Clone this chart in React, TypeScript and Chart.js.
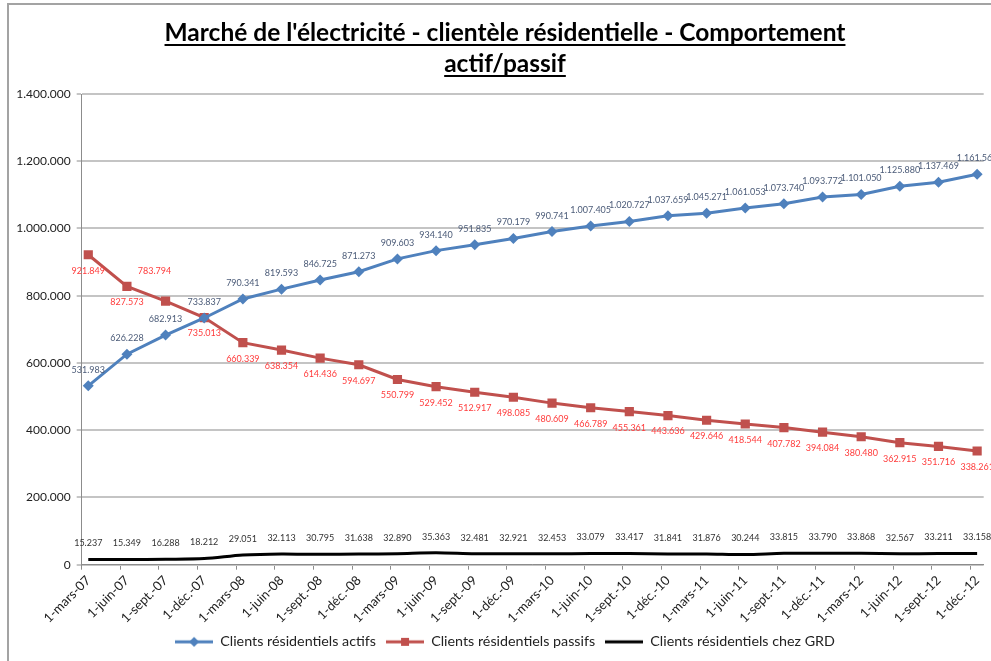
import React, { useEffect, useRef } from 'react';
import { Chart, registerables } from 'chart.js';

Chart.register(...registerables);

const dates = [
  '1-mars-07', '1-juin-07', '1-sept.-07', '1-déc.-07',
  '1-mars-08', '1-juin-08', '1-sept.-08', '1-déc.-08',
  '1-mars-09', '1-juin-09', '1-sept.-09', '1-déc.-09',
  '1-mars-10', '1-juin-10', '1-sept.-10', '1-déc.-10',
  '1-mars-11', '1-juin-11', '1-sept.-11', '1-déc.-11',
  '1-mars-12', '1-juin-12', '1-sept.-12', '1-déc.-12',
];

const actifs = [
  531983, 626228, 682913, 733837, 790341, 819593, 846725, 871273,
  909603, 934140, 951835, 970179, 990741, 1007405, 1020727, 1037659,
  1045271, 1061053, 1073740, 1093772, 1101050, 1125880, 1137469, 1161560,
];

const passifs = [
  921849, 827573, 783794, 735013, 660339, 638354, 614436, 594697,
  550799, 529452, 512917, 498085, 480609, 466789, 455361, 443636,
  429646, 418544, 407782, 394084, 380480, 362915, 351716, 338261,
];

const grd = [
  15237, 15349, 16288, 18212, 29051, 32113, 30795, 31638,
  32890, 35363, 32481, 32921, 32453, 33079, 33417, 31841,
  31876, 30244, 33815, 33790, 33868, 32567, 33211, 33158,
];

const yTicks = [0, 200000, 400000, 600000, 800000, 1000000, 1200000, 1400000];

const seriesNames = [
  'Clients résidentiels actifs',
  'Clients résidentiels passifs',
  'Clients résidentiels chez GRD',
];

const titleLines = [
  "Marché de l'électricité - clientèle résidentielle - Comportement",
  'actif/passif',
];

const FONT = 'Lato';
const W = 1004;
const H = 661;
const TICK_SHIFT = 0.17;
const CENTER_X = 505;

const fmt = (v: number) => String(Math.round(v)).replace(/\B(?=(\d{3})+(?!\d))/g, '.');

function makeIcon(color: string, marker: 'diamond' | 'square' | 'none') {
  const c = document.createElement('canvas');
  c.width = 38;
  c.height = 14;
  const ctx = c.getContext('2d')!;
  ctx.strokeStyle = color;
  ctx.lineWidth = 3;
  ctx.beginPath();
  ctx.moveTo(0, 7);
  ctx.lineTo(38, 7);
  ctx.stroke();
  ctx.fillStyle = color;
  if (marker === 'diamond') {
    ctx.beginPath();
    ctx.moveTo(19, 2);
    ctx.lineTo(24, 7);
    ctx.lineTo(19, 12);
    ctx.lineTo(14, 7);
    ctx.closePath();
    ctx.fill();
  } else if (marker === 'square') {
    ctx.fillRect(15, 3, 8, 8);
  }
  return c;
}

const framePlugin = {
  id: 'frame',
  beforeDraw(chart: any) {
    const ctx = chart.ctx;
    ctx.save();
    ctx.fillStyle = '#ffffff';
    ctx.fillRect(0, 0, chart.width, chart.height);
    ctx.strokeStyle = '#a3a3a3';
    ctx.lineWidth = 2;
    ctx.beginPath();
    ctx.moveTo(8, chart.height);
    ctx.lineTo(8, 4);
    ctx.lineTo(chart.width - 2, 4);
    ctx.stroke();
    ctx.restore();
  },
};

const legendShiftPlugin = {
  id: 'legendShift',
  afterLayout(chart: any) {
    const lg = chart.legend;
    if (!lg) return;
    const d = CENTER_X - (lg.left + lg.right) / 2;
    lg.left += d;
    lg.right += d;
  },
};

const titlePlugin = {
  id: 'underlinedTitle',
  afterDraw(chart: any) {
    const ctx = chart.ctx;
    ctx.save();
    ctx.font = `bold 24.5px ${FONT}`;
    ctx.fillStyle = '#000000';
    ctx.textAlign = 'center';
    ctx.textBaseline = 'alphabetic';
    const baselines = [41, 72];
    titleLines.forEach((line, i) => {
      const y = baselines[i];
      ctx.fillText(line, CENTER_X, y);
      const w = ctx.measureText(line).width;
      ctx.fillRect(CENTER_X - w / 2, y + 3, w, 2);
    });
    ctx.restore();
  },
};

const labelPlugin = {
  id: 'pointLabels',
  afterDatasetsDraw(chart: any) {
    const ctx = chart.ctx;
    ctx.save();
    ctx.font = `9px ${FONT}`;
    ctx.textAlign = 'center';
    ctx.textBaseline = 'middle';
    chart.data.datasets.forEach((ds: any, di: number) => {
      const meta = chart.getDatasetMeta(di);
      meta.data.forEach((pt: any, j: number) => {
        const v = ds.data[j].y;
        let dx = 0;
        let dy = -16;
        let color = '#4b5b78';
        if (di === 1) {
          color = '#ff3b3b';
          if (j === 2) {
            dx = -11;
            dy = -30;
          } else {
            dy = 16;
          }
        } else if (di === 2) {
          color = '#333333';
          dy = -16;
        }
        ctx.fillStyle = color;
        ctx.fillText(fmt(v), pt.x + dx, pt.y + dy);
      });
    });
    ctx.restore();
  },
};

export default function App() {
  const ref = useRef<HTMLCanvasElement | null>(null);

  useEffect(() => {
    const canvas = ref.current;
    if (!canvas) return;
    const icons = [
      makeIcon('#4F81BD', 'diamond'),
      makeIcon('#C0504D', 'square'),
      makeIcon('#000000', 'none'),
    ];
    const colors = ['#4F81BD', '#C0504D', '#000000'];
    const series = [actifs, passifs, grd];

    const chart = new Chart(canvas, {
      type: 'line',
      data: {
        datasets: series.map((vals, i) => ({
          label: seriesNames[i],
          data: vals.map((v, k) => ({ x: k, y: v })),
          borderColor: colors[i],
          backgroundColor: colors[i],
          borderWidth: 3,
          pointStyle: i === 0 ? 'rectRot' : i === 1 ? 'rect' : 'circle',
          pointRadius: i === 0 ? 5.5 : i === 1 ? 6.5 : 0,
          pointBorderWidth: 0,
          tension: i === 2 ? 0.3 : 0,
          fill: false,
        })),
      },
      options: {
        responsive: false,
        animation: false,
        layout: { padding: { top: 94, left: 8, right: W - 983.7, bottom: 2 } },
        plugins: {
          legend: {
            position: 'bottom',
            labels: {
              usePointStyle: true,
              pointStyleWidth: 38,
              padding: 10,
              color: '#222222',
              font: { family: FONT, size: 14.3 },
              generateLabels: () =>
                seriesNames.map((name, i) => ({
                  text: name,
                  pointStyle: icons[i],
                  fillStyle: colors[i],
                  strokeStyle: colors[i],
                  lineWidth: 0,
                  hidden: false,
                  datasetIndex: i,
                  fontColor: '#222222',
                })),
            },
          },
          title: { display: false },
          tooltip: { enabled: false },
        },
        scales: {
          x: {
            type: 'linear',
            min: -TICK_SHIFT,
            max: dates.length - 1 + TICK_SHIFT,
            afterBuildTicks: (scale: any) => {
              scale.ticks = dates.map((_, k) => ({ value: k - TICK_SHIFT }));
            },
            afterFit: (scale: any) => {
              scale.height = 60;
            },
            grid: {
              drawOnChartArea: false,
              drawTicks: true,
              tickLength: 5,
              tickColor: '#8c8c8c',
              tickWidth: 1,
            },
            border: { display: true, color: '#8c8c8c', width: 1 },
            ticks: {
              autoSkip: false,
              minRotation: 45,
              maxRotation: 45,
              labelOffset: 6.6,
              padding: 3,
              color: '#222222',
              font: { family: FONT, size: 13 },
              callback: (_v: any, i: number) => dates[i],
            },
          },
          y: {
            min: 0,
            max: 1400000,
            afterBuildTicks: (scale: any) => {
              scale.ticks = yTicks.map((v) => ({ value: v }));
            },
            afterFit: (scale: any) => {
              scale.width = 81.7 - 8;
            },
            grid: {
              color: '#c4c4c4',
              lineWidth: 2,
              tickLength: 5,
              tickColor: '#8c8c8c',
              tickWidth: 1,
            },
            border: { display: true, color: '#8c8c8c', width: 1 },
            ticks: {
              padding: 6,
              color: '#222222',
              font: { family: FONT, size: 12 },
              callback: (v: any) => fmt(Number(v)),
            },
          },
        },
      },
      plugins: [framePlugin, legendShiftPlugin, titlePlugin, labelPlugin],
    } as any);

    return () => chart.destroy();
  }, []);

  return (
    <div style={{ position: 'fixed', left: 0, top: 0, width: 991, height: 661, overflow: 'hidden', background: '#fff' }}>
      <div style={{ width: W, height: H }}>
        <canvas ref={ref} width={W} height={H} style={{ display: 'block', width: W, height: H }} />
      </div>
    </div>
  );
}
